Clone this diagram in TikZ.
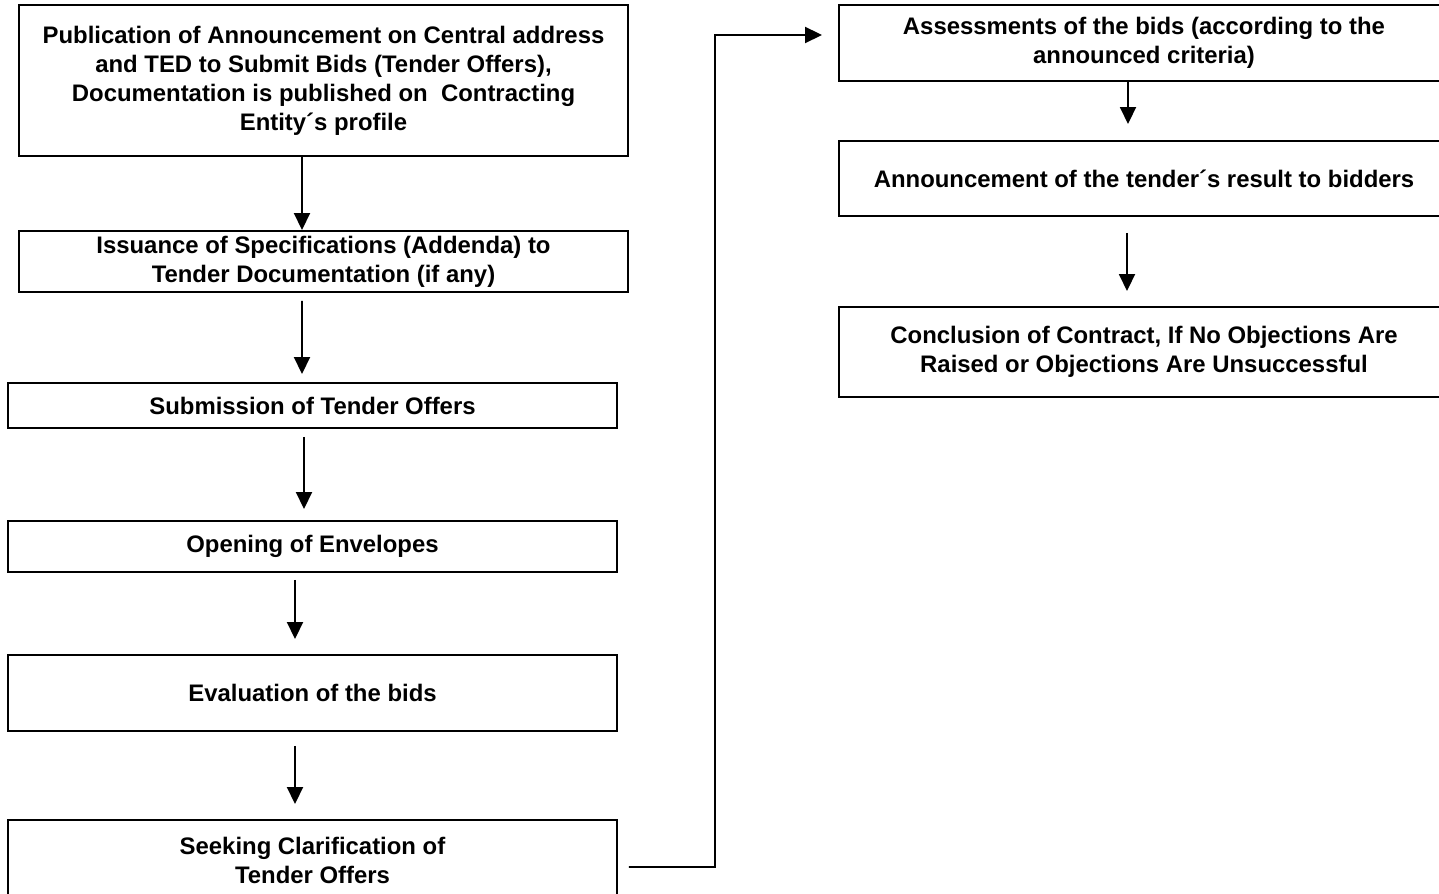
\documentclass[tikz,border=0pt]{standalone}
\usepackage{fontspec}
\setmainfont{Liberation Sans}
\usepackage{tikz}
\usetikzlibrary{arrows.meta,positioning,calc}

\begin{document}
\begin{tikzpicture}[
  box/.style={draw,line width=1.1pt,align=center,inner sep=0pt,
              font=\fontsize{13.6}{16.5}\selectfont\bfseries},
  leftbox/.style={box,minimum width=12.18cm},
  rightbox/.style={box,minimum width=12.2cm},
  arr/.style={-{Triangle[length=3.4mm,width=3.2mm]},line width=1.1pt}
]
\useasboundingbox (0,0) rectangle (28.78,-17.88);

\node[leftbox,minimum height=3.02cm] (publish) at (6.47,-1.61) {Publication of Announcement on Central address\\and TED to Submit Bids (Tender Offers),\\Documentation is published on\ \ Contracting\\Entity´s profile};
\node[leftbox,minimum height=1.22cm] (addenda) at (6.47,-5.23) {Issuance of Specifications (Addenda) to\\Tender Documentation (if any)};
\node[leftbox,minimum height=0.9cm] (submit) at (6.25,-8.11) {Submission of Tender Offers};
\node[leftbox,minimum height=1.02cm] (envelopes) at (6.25,-10.93) {Opening of Envelopes};
\node[leftbox,minimum height=1.52cm] (evaluate) at (6.25,-13.86) {Evaluation of the bids};
\node[leftbox,minimum height=1.6cm] (clarify) at (6.25,-17.2) {Seeking Clarification of\\Tender Offers};

\node[rightbox,minimum height=1.52cm] (assess) at (22.88,-0.86) {Assessments of the bids (according to the\\announced criteria)};
\node[rightbox,minimum height=1.5cm] (result) at (22.88,-3.57) {Announcement of the tender´s result to bidders};
\node[rightbox,minimum height=1.8cm] (contract) at (22.88,-7.04) {Conclusion of Contract, If No Objections Are\\Raised or Objections Are Unsuccessful};

\draw[arr] ([xshift=-4.3mm]publish.south) -- ([xshift=-4.3mm]addenda.north);
\draw[arr,shorten <=1.6mm,shorten >=1.6mm] ([xshift=-4.3mm]addenda.south) -- ([xshift=-2.1mm]submit.north);
\draw[arr,shorten <=1.6mm,shorten >=2.2mm] ([xshift=-1.7mm]submit.south) -- ([xshift=-1.7mm]envelopes.north);
\draw[arr,shorten <=1.4mm,shorten >=3mm] ([xshift=-3.5mm]envelopes.south) -- ([xshift=-3.5mm]evaluate.north);
\draw[arr,shorten <=2.8mm,shorten >=3mm] ([xshift=-3.5mm]evaluate.south) -- ([xshift=-3.5mm]clarify.north);

\draw[arr,shorten >=3.2mm] ([xshift=-3.2mm]assess.south) -- ([xshift=-3.2mm]result.north);
\draw[arr,shorten <=3.2mm,shorten >=3mm] ([xshift=-3.4mm]result.south) -- ([xshift=-3.4mm]contract.north);

\coordinate (turn) at (14.3,-0.7);
\draw[arr,shorten >=3.2mm] ([shift={(2.2mm,-1.4mm)}]clarify.east) -| (turn) -- ([yshift=1.6mm]assess.west);
\end{tikzpicture}
\end{document}
